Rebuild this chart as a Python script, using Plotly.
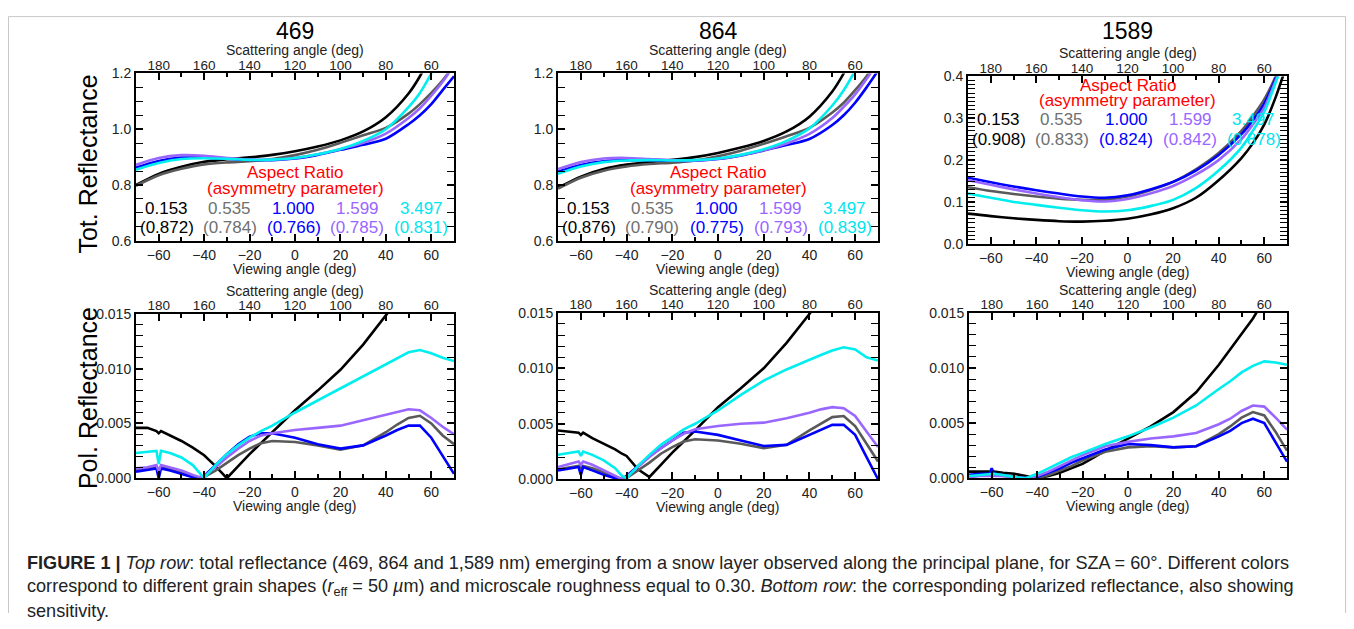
import plotly.graph_objects as go

# ---------------- data ----------------
WAVELENGTHS = ["469", "864", "1589"]
ASPECT_RATIOS = ["0.153", "0.535", "1.000", "1.599", "3.497"]
G_469 = ["(0.872)", "(0.784)", "(0.766)", "(0.785)", "(0.831)"]
G_864 = ["(0.876)", "(0.790)", "(0.775)", "(0.793)", "(0.839)"]
G_1589 = ["(0.908)", "(0.833)", "(0.824)", "(0.842)", "(0.878)"]

VIEW_TOP = [-70, -60, -50, -40, -30, -20, -10, 0, 10, 20, 30, 40, 50, 55, 60, 65, 70]
VIEW_BOT = [-70, -65, -61, -60, -59, -55, -50, -45, -42, -40, -35, -30, -25, -20, -15, -10,
            0, 10, 20, 30, 40, 45, 50, 55, 60, 65, 70]
SCAT_TICKS = [180, 160, 140, 120, 100, 80, 60]
VIEW_TICKS = [-60, -40, -20, 0, 20, 40, 60]

# total reflectance, 469 nm
TOT_469_153 = [0.800, 0.840, 0.865, 0.883, 0.892, 0.899, 0.908, 0.921, 0.938, 0.960, 0.992, 1.043, 1.128, 1.190, 1.270, 1.360, 1.450]
TOT_469_535 = [0.797, 0.835, 0.858, 0.874, 0.881, 0.885, 0.893, 0.907, 0.926, 0.951, 0.978, 1.005, 1.056, 1.090, 1.130, 1.175, 1.230]
TOT_469_1000 = [0.862, 0.886, 0.898, 0.898, 0.894, 0.890, 0.889, 0.895, 0.908, 0.926, 0.944, 0.966, 1.018, 1.050, 1.090, 1.140, 1.190]
TOT_469_1599 = [0.872, 0.897, 0.907, 0.905, 0.897, 0.891, 0.891, 0.897, 0.910, 0.928, 0.951, 0.984, 1.040, 1.075, 1.120, 1.170, 1.230]
TOT_469_3497 = [0.855, 0.879, 0.893, 0.896, 0.894, 0.890, 0.891, 0.897, 0.910, 0.929, 0.958, 1.000, 1.079, 1.130, 1.200, 1.280, 1.370]

# total reflectance, 864 nm
TOT_864_153 = [0.790, 0.830, 0.857, 0.873, 0.882, 0.890, 0.900, 0.915, 0.934, 0.958, 0.992, 1.045, 1.135, 1.200, 1.280, 1.370, 1.460]
TOT_864_535 = [0.787, 0.826, 0.851, 0.866, 0.875, 0.880, 0.888, 0.903, 0.923, 0.948, 0.975, 1.005, 1.060, 1.095, 1.140, 1.190, 1.250]
TOT_864_1000 = [0.848, 0.872, 0.885, 0.889, 0.889, 0.887, 0.887, 0.893, 0.906, 0.924, 0.943, 0.965, 1.015, 1.050, 1.095, 1.150, 1.210]
TOT_864_1599 = [0.857, 0.882, 0.895, 0.897, 0.893, 0.889, 0.888, 0.894, 0.907, 0.925, 0.949, 0.983, 1.040, 1.080, 1.125, 1.180, 1.240]
TOT_864_3497 = [0.840, 0.866, 0.882, 0.888, 0.889, 0.888, 0.889, 0.895, 0.908, 0.928, 0.958, 1.003, 1.085, 1.140, 1.210, 1.290, 1.380]

# total reflectance, 1589 nm
TOT_1589_153 = [0.072, 0.066, 0.061, 0.057, 0.054, 0.053, 0.055, 0.060, 0.070, 0.085, 0.110, 0.152, 0.205, 0.240, 0.285, 0.350, 0.430]
TOT_1589_535 = [0.135, 0.126, 0.119, 0.113, 0.108, 0.105, 0.105, 0.113, 0.128, 0.148, 0.178, 0.217, 0.270, 0.305, 0.345, 0.400, 0.470]
TOT_1589_1000 = [0.158, 0.147, 0.137, 0.128, 0.120, 0.113, 0.110, 0.116, 0.130, 0.148, 0.175, 0.212, 0.262, 0.295, 0.335, 0.395, 0.470]
TOT_1589_1599 = [0.152, 0.141, 0.130, 0.120, 0.111, 0.104, 0.101, 0.107, 0.120, 0.138, 0.165, 0.200, 0.250, 0.285, 0.325, 0.390, 0.460]
TOT_1589_3497 = [0.120, 0.110, 0.100, 0.093, 0.086, 0.080, 0.077, 0.080, 0.090, 0.105, 0.133, 0.175, 0.230, 0.270, 0.315, 0.385, 0.460]

# polarized reflectance, 469 nm
POL_469_153 = [.0046, .0046, .0043, .0041, .0043, .0039, .0034, .0028, .0024, .0021, .0011, .0000, .0011, .0022, .0032, .0042,
               .0062, .0080, .0099, .0122, .0148, .0162, .0178, .0195, .0210, .0225, .0240]
POL_469_535 = [.0008, .0009, .0010, .0008, .0010, .0008, .0005, .0002, .0000, .0001, .0007, .0014, .0021, .0027, .0032, .0034,
               .0033, .0030, .0026, .0030, .0042, .0049, .0055, .0057, .0050, .0039, .0031]
POL_469_1000 = [.0006, .0008, .0009, .0000, .0009, .0007, .0004, .0001, .0000, .0002, .0012, .0022, .0031, .0038, .0041, .0041,
                .0037, .0031, .0027, .0030, .0039, .0044, .0048, .0048, .0037, .0020, .0004]
POL_469_1599 = [.0009, .0010, .0012, .0006, .0012, .0010, .0007, .0003, .0001, .0002, .0010, .0019, .0027, .0034, .0039, .0041,
                .0044, .0046, .0048, .0053, .0058, .0061, .0063, .0062, .0055, .0047, .0040]
POL_469_3497 = [.0023, .0024, .0025, .0013, .0025, .0023, .0019, .0012, .0005, .0000, .0012, .0022, .0030, .0037, .0043, .0048,
                .0060, .0071, .0082, .0093, .0104, .0110, .0115, .0117, .0114, .0110, .0107]

# polarized reflectance, 864 nm
POL_864_153 = [.0044, .0043, .0042, .0040, .0042, .0037, .0032, .0027, .0023, .0021, .0009, .0002, .0013, .0024, .0034, .0044,
               .0065, .0082, .0100, .0123, .0149, .0163, .0178, .0195, .0210, .0225, .0240]
POL_864_535 = [.0009, .0011, .0012, .0010, .0012, .0010, .0006, .0002, .0000, .0001, .0008, .0015, .0023, .0029, .0034, .0036,
               .0035, .0032, .0028, .0031, .0044, .0050, .0056, .0057, .0048, .0032, .0016]
POL_864_1000 = [.0008, .0010, .0011, .0004, .0011, .0008, .0004, .0001, .0000, .0003, .0012, .0021, .0028, .0035, .0042, .0043,
                .0040, .0035, .0030, .0031, .0040, .0045, .0049, .0049, .0040, .0020, .0000]
POL_864_1599 = [.0011, .0014, .0016, .0013, .0016, .0013, .0008, .0003, .0000, .0002, .0011, .0020, .0028, .0035, .0041, .0045,
                .0048, .0050, .0051, .0055, .0060, .0063, .0065, .0064, .0057, .0043, .0029]
POL_864_3497 = [.0022, .0024, .0025, .0021, .0025, .0022, .0017, .0010, .0003, .0001, .0012, .0022, .0031, .0038, .0045, .0050,
                .0062, .0076, .0089, .0099, .0108, .0112, .0116, .0119, .0117, .0110, .0107]

# polarized reflectance, 1589 nm
POL_1589_153 = [.0006, .0006, .0006, .0006, .0006, .0005, .0004, .0002, .0001, .0000, .0002, .0005, .0009, .0013, .0019, .0025,
                .0036, .0047, .0060, .0078, .0103, .0117, .0132, .0145, .0162, .0180, .0190]
POL_1589_535 = [.0002, .0003, .0003, .0003, .0003, .0002, .0001, .0000, .0000, .0000, .0003, .0007, .0011, .0016, .0020, .0024,
                .0028, .0029, .0028, .0029, .0040, .0047, .0055, .0060, .0057, .0042, .0025]
POL_1589_1000 = [.0003, .0004, .0004, .0009, .0004, .0003, .0001, .0000, .0000, .0001, .0005, .0009, .0014, .0018, .0022, .0026,
                 .0031, .0030, .0028, .0029, .0038, .0043, .0050, .0054, .0050, .0033, .0015]
POL_1589_1599 = [.0001, .0002, .0002, .0002, .0002, .0002, .0001, .0000, .0001, .0002, .0006, .0011, .0016, .0021, .0025, .0029,
                 .0033, .0036, .0038, .0041, .0049, .0054, .0061, .0066, .0065, .0055, .0044]
POL_1589_3497 = [.0002, .0003, .0004, .0004, .0004, .0003, .0001, .0000, .0002, .0004, .0009, .0014, .0019, .0023, .0027, .0031,
                 .0038, .0046, .0055, .0066, .0081, .0088, .0096, .0102, .0106, .0105, .0103]

# ---------------- style ----------------
PAGE_OFFSET = 8          # default body margin of the html page
W, H = 1354 - 2 * PAGE_OFFSET, 629 - 2 * PAGE_OFFSET
FONT = "Liberation Sans, Arial, Helvetica, sans-serif"
LINE_COLORS = ["#000000", "#5a5a5a", "#0000ff", "#9966ff", "#00eeee"]
TEXT_COLORS = ["#000000", "#707070", "#0000ff", "#9966ff", "#00e5ee"]
# empirical vertical correction of the captured page
Y_OFF, Y_SCALE = 7.9, 0.972


def px_x(p):
    return (p - PAGE_OFFSET) / W


def px_y(p):
    q = (p - Y_OFF) / Y_SCALE
    return 1 - (q - PAGE_OFFSET) / H


panels = [
    dict(box=(136, 454, 73, 240), yr=[0.6, 1.2], dt=0.2, mdt=0.05, fmt=".1f", v=VIEW_TOP,
         ys=[TOT_469_153, TOT_469_535, TOT_469_1000, TOT_469_1599, TOT_469_3497], spline=True,
         g=G_469, rows=(172, 188, 208, 227), title="469"),
    dict(box=(558, 878, 73, 240), yr=[0.6, 1.2], dt=0.2, mdt=0.05, fmt=".1f", v=VIEW_TOP,
         ys=[TOT_864_153, TOT_864_535, TOT_864_1000, TOT_864_1599, TOT_864_3497], spline=True,
         g=G_864, rows=(172, 188, 208, 227), title="864"),
    dict(box=(968, 1287, 76, 243), yr=[0.0, 0.4], dt=0.1, mdt=0.01, fmt=".1f", v=VIEW_TOP,
         ys=[TOT_1589_153, TOT_1589_535, TOT_1589_1000, TOT_1589_1599, TOT_1589_3497], spline=True,
         g=G_1589, rows=(85, 100, 119, 139), title="1589"),
    dict(box=(136, 454, 313, 477), yr=[0.0, 0.015], dt=0.005, mdt=0.001, fmt=".3f", v=VIEW_BOT,
         ys=[POL_469_153, POL_469_535, POL_469_1000, POL_469_1599, POL_469_3497], spline=False),
    dict(box=(558, 878, 312, 478), yr=[0.0, 0.015], dt=0.005, mdt=0.001, fmt=".3f", v=VIEW_BOT,
         ys=[POL_864_153, POL_864_535, POL_864_1000, POL_864_1599, POL_864_3497], spline=False),
    dict(box=(969, 1287, 312, 477), yr=[0.0, 0.015], dt=0.005, mdt=0.001, fmt=".3f", v=VIEW_BOT,
         ys=[POL_1589_153, POL_1589_535, POL_1589_1000, POL_1589_1599, POL_1589_3497], spline=False),
]

COL_X = [-56.5, -28.8, -0.5, 27.5, 55.5]

fig = go.Figure()
layout = {}
annotations = []
tickfont = dict(family=FONT, size=14, color="#222222")
toptickfont = dict(family=FONT, size=13.5, color="#222222")


def ann(text, x, y, xref="paper", size=14, color="#222222", **kw):
    d = dict(text=text, x=x, y=y, xref=xref, yref="paper", showarrow=False,
             xanchor="center", yanchor="middle", font=dict(family=FONT, size=size, color=color))
    d.update(kw)
    annotations.append(d)


for i, p in enumerate(panels, start=1):
    xb = f"x{i}" if i > 1 else "x"
    yb = f"y{i}" if i > 1 else "y"
    xt_num = i + 6
    x0, x1, y0, y1 = p["box"]
    for k in range(5):
        fig.add_trace(go.Scatter(
            x=p["v"], y=p["ys"][k], mode="lines", xaxis=xb, yaxis=yb, showlegend=False,
            line=dict(color=LINE_COLORS[k], width=2.6,
                      shape="spline" if p["spline"] else "linear", smoothing=0.8),
            hoverinfo="skip"))
    # helper trace so the scattering-angle axis is drawn
    fig.add_trace(go.Scatter(x=[], y=[], xaxis=f"x{xt_num}", yaxis=yb, showlegend=False,
                             hoverinfo="skip"))

    layout["xaxis" if i == 1 else f"xaxis{i}"] = dict(
        domain=[px_x(x0), px_x(x1)], anchor=yb, range=[-70, 70],
        tickvals=VIEW_TICKS, ticks="inside", ticklen=7, tickwidth=1.5, tickcolor="black",
        minor=dict(dtick=10, ticks="inside", ticklen=4, tickwidth=1.5, tickcolor="black"),
        showline=True, linewidth=2, linecolor="black", mirror=True,
        showgrid=False, zeroline=False, tickfont=tickfont)
    layout[f"xaxis{xt_num}"] = dict(
        overlaying=xb, anchor=yb, side="top", range=[190, 50],
        tickvals=SCAT_TICKS, ticks="inside", ticklen=7, tickwidth=1.5, tickcolor="black",
        minor=dict(dtick=10, ticks="inside", ticklen=4, tickwidth=1.5, tickcolor="black"),
        showline=False, showgrid=False, zeroline=False, tickfont=toptickfont)
    layout["yaxis" if i == 1 else f"yaxis{i}"] = dict(
        domain=[px_y(y1), px_y(y0)], anchor=xb, range=p["yr"], dtick=p["dt"], tick0=0,
        tickformat=p["fmt"], ticks="inside", ticklen=7, tickwidth=1.5, tickcolor="black",
        minor=dict(dtick=p["mdt"], ticks="inside", ticklen=4, tickwidth=1.2, tickcolor="black"),
        showline=True, linewidth=2, linecolor="black", mirror="allticks",
        showgrid=False, zeroline=False, tickfont=tickfont)

    cx = px_x((x0 + x1) / 2)
    ann("Scattering angle (deg)", cx, px_y(y0 - 23))
    ann("Viewing angle (deg)", cx, px_y(y1 + 28))
    if "title" in p:
        ann(p["title"], cx, px_y(31), size=23, color="black")
        r0, r1, r2, r3 = p["rows"]
        ann("Aspect Ratio", 0, px_y(r0), xref=xb, size=17, color="#ff0000")
        ann("(asymmetry parameter)", 0, px_y(r1), xref=xb, size=17, color="#ff0000")
        for k in range(5):
            ann(ASPECT_RATIOS[k], COL_X[k], px_y(r2), xref=xb, size=17, color=TEXT_COLORS[k])
            ann(p["g"][k], COL_X[k], px_y(r3), xref=xb, size=17, color=TEXT_COLORS[k])

ann("Tot. Reflectance", px_x(88), px_y(164), size=25, color="black", textangle=-90)
ann("Pol. Reflectance", px_x(88), px_y(397), size=25, color="black", textangle=-90)

CAPTION = [
    "<b>FIGURE 1 |</b> <i>Top row</i>: total reflectance (469, 864 and 1,589 nm) emerging from a snow layer observed "
    "along the principal plane, for SZA = 60°. Different colors",
    "correspond to different grain shapes (<i>r</i><sub>eff</sub> = 50 <i>µ</i>m) and microscale roughness equal to "
    "0.30. <i>Bottom row</i>: the corresponding polarized reflectance, also showing",
    "sensitivity.",
]
for line, yp in zip(CAPTION, [562, 586, 610]):
    ann(line, px_x(25), px_y(yp), size=18.1, color="#222222", xanchor="left", align="left")

shapes = [dict(type="path", xref="paper", yref="paper",
               path=f"M {px_x(8.5)} 0 L {px_x(8.5)} 0.999 L {px_x(1345.5)} 0.999 L {px_x(1345.5)} 0",
               line=dict(color="#c8c8c8", width=1))]

fig.update_layout(width=W, height=H, margin=dict(l=0, r=0, t=0, b=0), paper_bgcolor="white",
                  plot_bgcolor="white", annotations=annotations, shapes=shapes, showlegend=False,
                  font=dict(family=FONT), **layout)

fig.write_html("out.html")
